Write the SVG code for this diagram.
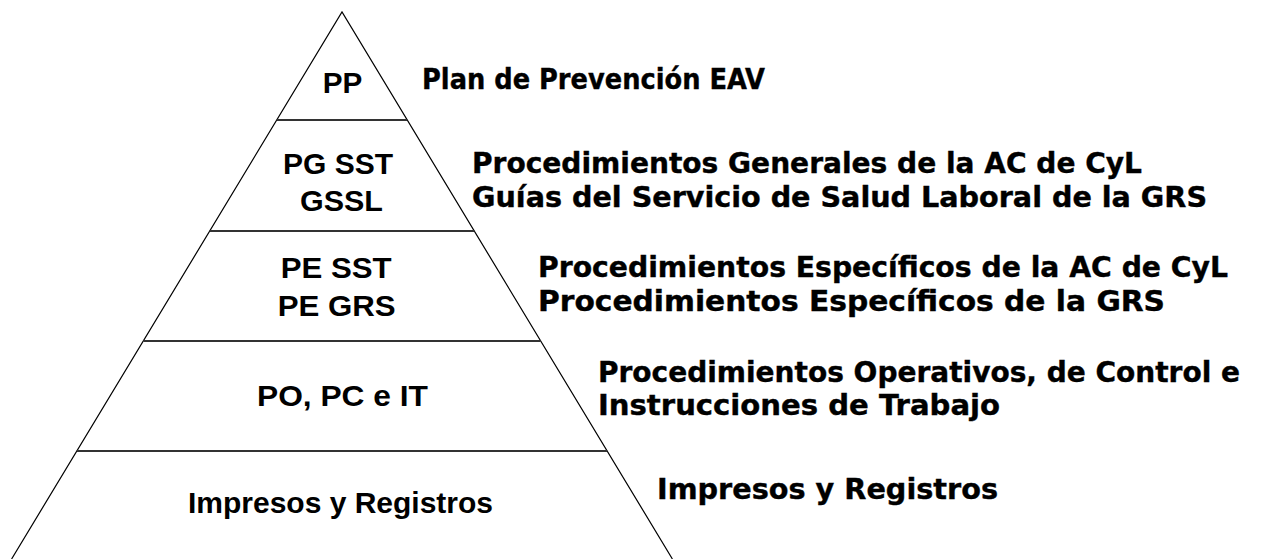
<svg xmlns="http://www.w3.org/2000/svg" width="1263" height="559" viewBox="0 0 1263 559">
<style>
.side{stroke:#000;stroke-width:1.2;fill:none}
.tier{stroke:#333;stroke-width:2.2}
.in{font-family:"Liberation Sans",Arial,sans-serif;font-weight:bold;font-size:30px;fill:#000}
.out{font-family:"DejaVu Sans",Verdana,sans-serif;font-weight:bold;font-size:28px;fill:#000;stroke:#000;stroke-width:0.4}
</style>
<rect width="1263" height="559" fill="#fff"/>
<g id="connectors">
<path class="side" d="M11.6,559 L342,12 L672.4,559"/>
<line class="tier" x1="276.8" y1="120" x2="407.2" y2="120"/>
<line class="tier" x1="209.7" y1="231" x2="474.3" y2="231"/>
<line class="tier" x1="143.3" y1="341" x2="540.7" y2="341"/>
<line class="tier" x1="76.8" y1="451" x2="607.2" y2="451"/>
</g>
<g id="level-pp">
<text class="in" x="322.7" y="93" textLength="39.6" lengthAdjust="spacingAndGlyphs">PP</text>
<text class="out" x="422" y="89" textLength="343" lengthAdjust="spacingAndGlyphs">Plan de Prevención EAV</text>
</g>
<g id="level-pg">
<text class="in" x="283" y="174" textLength="110" lengthAdjust="spacingAndGlyphs">PG SST</text>
<text class="in" x="300" y="211" textLength="83" lengthAdjust="spacingAndGlyphs">GSSL</text>
<text class="out" x="472" y="173" textLength="670" lengthAdjust="spacingAndGlyphs">Procedimientos Generales de la AC de CyL</text>
<text class="out" x="472" y="207" textLength="735" lengthAdjust="spacingAndGlyphs">Guías del Servicio de Salud Laboral de la GRS</text>
</g>
<g id="level-pe">
<text class="in" x="280.7" y="278" textLength="111" lengthAdjust="spacingAndGlyphs">PE SST</text>
<text class="in" x="277.7" y="316" textLength="118" lengthAdjust="spacingAndGlyphs">PE GRS</text>
<text class="out" x="538" y="277" textLength="690" lengthAdjust="spacingAndGlyphs">Procedimientos Específicos de la AC de CyL</text>
<text class="out" x="538" y="311" textLength="627" lengthAdjust="spacingAndGlyphs">Procedimientos Específicos de la GRS</text>
</g>
<g id="level-po">
<text class="in" x="257" y="406" textLength="171" lengthAdjust="spacingAndGlyphs">PO, PC e IT</text>
<text class="out" x="598" y="382" textLength="642" lengthAdjust="spacingAndGlyphs">Procedimientos Operativos, de Control e</text>
<text class="out" x="598" y="415" textLength="402" lengthAdjust="spacingAndGlyphs">Instrucciones de Trabajo</text>
</g>
<g id="level-ir">
<text class="in" x="188" y="513" textLength="305" lengthAdjust="spacingAndGlyphs">Impresos y Registros</text>
<text class="out" x="657" y="499" textLength="341" lengthAdjust="spacingAndGlyphs">Impresos y Registros</text>
</g>
</svg>
